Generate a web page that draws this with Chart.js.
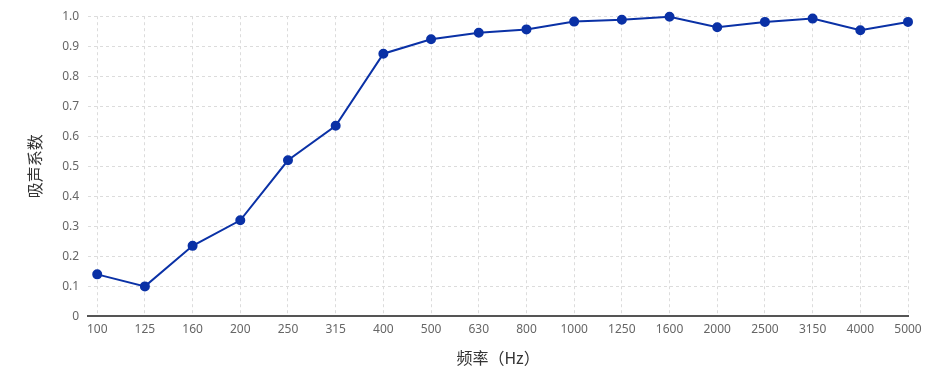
<!DOCTYPE html>
<html>
<head>
<meta charset="utf-8">
<script src="https://cdn.jsdelivr.net/npm/chart.js@4/dist/chart.umd.min.js"></script>
<style>
  body { margin: 0; background: #fff; }
  #wrap { width: 950px; height: 378px; }
</style>
</head>
<body>
<div id="wrap"><canvas id="absorb" width="950" height="378"></canvas></div>
<script>
const freqLabels = ['100', '125', '160', '200', '250', '315', '400', '500', '630', '800', '1000', '1250', '1600', '2000', '2500', '3150', '4000', '5000'];
const absorbValues = [0.14, 0.10, 0.235, 0.32, 0.52, 0.635, 0.875, 0.923, 0.945, 0.956, 0.982, 0.988, 0.998, 0.963, 0.981, 0.992, 0.953, 0.981];
const yTicks = [0, 0.1, 0.2, 0.3, 0.4, 0.5, 0.6, 0.7, 0.8, 0.9, 1.0];

// points as {x: index, y: value} so the x axis can start a bit left of the first category
const points = absorbValues.map((v, i) => ({ x: i, y: v }));

const tickFont = { family: "'Noto Sans', sans-serif", size: 12 };
const titleFont = { family: "'Noto Sans CJK SC', sans-serif", size: 16 };

const config = {
  type: 'line',
  data: {
    datasets: [{
      label: '吸声系数',
      data: points,
      borderColor: '#0a31a6',
      backgroundColor: '#0a31a6',
      borderWidth: 2,
      pointRadius: 4,
      pointHoverRadius: 5,
      tension: 0,
      clip: false
    }]
  },
  options: {
    responsive: false,
    animation: false,
    layout: { padding: { top: 16, right: 42, bottom: 6, left: 21 } },
    plugins: {
      legend: { display: false },
      tooltip: { enabled: false }
    },
    scales: {
      x: {
        type: 'linear',
        min: -0.19,
        max: freqLabels.length - 1,
        afterBuildTicks: (axis) => {
          axis.ticks = freqLabels.map((_, i) => ({ value: i }));
        },
        ticks: {
          color: '#666',
          font: tickFont,
          padding: 6,
          maxRotation: 0,
          autoSkip: false,
          callback: (v) => freqLabels[v]
        },
        grid: { color: '#dcdcdc', drawTicks: false },
        border: { color: '#555', width: 2, dash: [3, 3] },
        title: {
          display: true,
          text: '频率（Hz）',
          color: '#333',
          font: titleFont,
          padding: { top: 6 }
        }
      },
      y: {
        min: 0,
        max: 1,
        afterBuildTicks: (axis) => {
          axis.ticks = yTicks.map(v => ({ value: v }));
        },
        ticks: {
          color: '#666',
          font: tickFont,
          padding: 9,
          callback: (v) => v === 0 ? '0' : v.toFixed(1)
        },
        grid: { color: '#dcdcdc', drawTicks: false },
        border: { display: false, dash: [3, 3] },
        title: {
          display: true,
          text: '吸声系数',
          color: '#333',
          font: titleFont,
          padding: { bottom: 9 }
        }
      }
    }
  }
};

const absorbChart = new Chart(document.getElementById('absorb'), config);
</script>
</body>
</html>
